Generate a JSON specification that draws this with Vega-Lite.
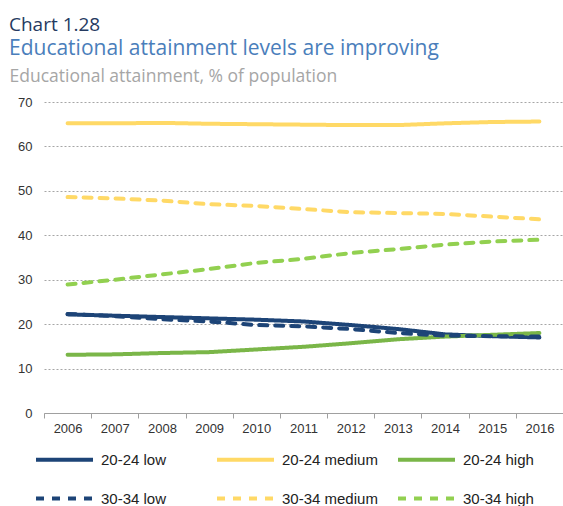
{
  "$schema": "https://vega.github.io/schema/vega-lite/v6.json",
  "width": 519,
  "height": 311,
  "autosize": {"type": "none"},
  "padding": {"left": 44, "top": 102, "right": 0, "bottom": 93},
  "background": "white",
  "title": {
    "text": "Chart 1.28",
    "subtitle": "Educational attainment levels are improving",
    "anchor": "start",
    "frame": "group",
    "dx": -35,
    "offset": 8,
    "font": "Open Sans",
    "fontSize": 19,
    "fontWeight": "normal",
    "color": "#253a61",
    "subtitleFont": "Open Sans",
    "subtitleFontSize": 21,
    "subtitleColor": "#4a7ebb",
    "subtitlePadding": 3
  },
  "config": {
    "view": {"stroke": null},
    "axis": {"labelFont": "Liberation Sans", "labelFontSize": 13, "labelColor": "#333333"},
    "legend": {"labelFont": "Liberation Sans", "labelFontSize": 15, "labelColor": "#222222"}
  },
  "data": {
    "values": [
      {"year": "2006", "series": "20-24 low", "value": 22.2},
      {"year": "2007", "series": "20-24 low", "value": 21.9},
      {"year": "2008", "series": "20-24 low", "value": 21.6},
      {"year": "2009", "series": "20-24 low", "value": 21.3},
      {"year": "2010", "series": "20-24 low", "value": 21.0},
      {"year": "2011", "series": "20-24 low", "value": 20.6},
      {"year": "2012", "series": "20-24 low", "value": 19.8},
      {"year": "2013", "series": "20-24 low", "value": 18.9},
      {"year": "2014", "series": "20-24 low", "value": 17.7},
      {"year": "2015", "series": "20-24 low", "value": 17.3},
      {"year": "2016", "series": "20-24 low", "value": 17.0},
      {"year": "2006", "series": "20-24 medium", "value": 65.2},
      {"year": "2007", "series": "20-24 medium", "value": 65.2},
      {"year": "2008", "series": "20-24 medium", "value": 65.3},
      {"year": "2009", "series": "20-24 medium", "value": 65.1},
      {"year": "2010", "series": "20-24 medium", "value": 65.0},
      {"year": "2011", "series": "20-24 medium", "value": 64.9},
      {"year": "2012", "series": "20-24 medium", "value": 64.8},
      {"year": "2013", "series": "20-24 medium", "value": 64.8},
      {"year": "2014", "series": "20-24 medium", "value": 65.2},
      {"year": "2015", "series": "20-24 medium", "value": 65.5},
      {"year": "2016", "series": "20-24 medium", "value": 65.6},
      {"year": "2006", "series": "20-24 high", "value": 13.1},
      {"year": "2007", "series": "20-24 high", "value": 13.2},
      {"year": "2008", "series": "20-24 high", "value": 13.5},
      {"year": "2009", "series": "20-24 high", "value": 13.7},
      {"year": "2010", "series": "20-24 high", "value": 14.3},
      {"year": "2011", "series": "20-24 high", "value": 14.9},
      {"year": "2012", "series": "20-24 high", "value": 15.7},
      {"year": "2013", "series": "20-24 high", "value": 16.6},
      {"year": "2014", "series": "20-24 high", "value": 17.2},
      {"year": "2015", "series": "20-24 high", "value": 17.6},
      {"year": "2016", "series": "20-24 high", "value": 18.0},
      {"year": "2006", "series": "30-34 low", "value": 22.3},
      {"year": "2007", "series": "30-34 low", "value": 21.8},
      {"year": "2008", "series": "30-34 low", "value": 21.1},
      {"year": "2009", "series": "30-34 low", "value": 20.6},
      {"year": "2010", "series": "30-34 low", "value": 19.8},
      {"year": "2011", "series": "30-34 low", "value": 19.5},
      {"year": "2012", "series": "30-34 low", "value": 18.9},
      {"year": "2013", "series": "30-34 low", "value": 18.0},
      {"year": "2014", "series": "30-34 low", "value": 17.4},
      {"year": "2015", "series": "30-34 low", "value": 17.3},
      {"year": "2016", "series": "30-34 low", "value": 17.2},
      {"year": "2006", "series": "30-34 medium", "value": 48.6},
      {"year": "2007", "series": "30-34 medium", "value": 48.3},
      {"year": "2008", "series": "30-34 medium", "value": 47.8},
      {"year": "2009", "series": "30-34 medium", "value": 47.0},
      {"year": "2010", "series": "30-34 medium", "value": 46.6},
      {"year": "2011", "series": "30-34 medium", "value": 45.9},
      {"year": "2012", "series": "30-34 medium", "value": 45.2},
      {"year": "2013", "series": "30-34 medium", "value": 45.0},
      {"year": "2014", "series": "30-34 medium", "value": 44.8},
      {"year": "2015", "series": "30-34 medium", "value": 44.2},
      {"year": "2016", "series": "30-34 medium", "value": 43.6},
      {"year": "2006", "series": "30-34 high", "value": 28.9},
      {"year": "2007", "series": "30-34 high", "value": 30.0},
      {"year": "2008", "series": "30-34 high", "value": 31.2},
      {"year": "2009", "series": "30-34 high", "value": 32.4},
      {"year": "2010", "series": "30-34 high", "value": 33.8},
      {"year": "2011", "series": "30-34 high", "value": 34.7},
      {"year": "2012", "series": "30-34 high", "value": 36.0},
      {"year": "2013", "series": "30-34 high", "value": 36.9},
      {"year": "2014", "series": "30-34 high", "value": 37.9},
      {"year": "2015", "series": "30-34 high", "value": 38.6},
      {"year": "2016", "series": "30-34 high", "value": 39.0}
    ]
  },
  "mark": {"type": "line", "strokeWidth": 4, "strokeCap": "round", "strokeJoin": "round"},
  "encoding": {
    "x": {
      "field": "year",
      "type": "ordinal",
      "bandPosition": 0.5,
      "scale": {"type": "band", "paddingInner": 0, "paddingOuter": 0},
      "axis": {
        "title": null,
        "labelAngle": 0,
        "tickBand": "extent",
        "domainColor": "#a0a0a0",
        "tickColor": "#a0a0a0",
        "tickSize": 5,
        "labelPadding": 4,
        "grid": false
      }
    },
    "y": {
      "field": "value",
      "type": "quantitative",
      "scale": {"domain": [0, 70], "nice": false},
      "axis": {
        "values": [0, 10, 20, 30, 40, 50, 60, 70],
        "domain": false,
        "ticks": false,
        "labelPadding": 12,
        "grid": true,
        "gridColor": "#a6a6a6",
        "gridDash": [2, 2],
        "gridWidth": 1,
        "title": "Educational attainment, % of population",
        "titleAngle": 0,
        "titleAlign": "left",
        "titleBaseline": "alphabetic",
        "titleX": -35,
        "titleY": -21,
        "titleFont": "Open Sans",
        "titleFontSize": 17.5,
        "titleFontWeight": "normal",
        "titleColor": "#a6a6a6"
      }
    },
    "color": {
      "field": "series",
      "type": "nominal",
      "scale": {
        "domain": ["20-24 low", "20-24 medium", "20-24 high", "30-34 low", "30-34 medium", "30-34 high"],
        "range": ["#1d4477", "#ffd966", "#7ab648", "#1d4477", "#ffd966", "#92d050"]
      },
      "legend": {
        "title": null,
        "orient": "none",
        "legendX": -10,
        "legendY": 327,
        "direction": "horizontal",
        "columns": 3,
        "gridAlign": "all",
        "symbolType": "stroke",
        "symbolSize": 3249,
        "symbolStrokeWidth": 4,
        "labelOffset": 6,
        "columnPadding": 12,
        "rowPadding": -16
      }
    },
    "strokeDash": {
      "field": "series",
      "type": "nominal",
      "scale": {
        "domain": ["20-24 low", "20-24 medium", "20-24 high", "30-34 low", "30-34 medium", "30-34 high"],
        "range": [[1, 0], [1, 0], [1, 0], [8, 8], [8, 8], [8, 8]]
      },
      "legend": {
        "title": null,
        "orient": "none",
        "legendX": -10,
        "legendY": 327,
        "direction": "horizontal",
        "columns": 3,
        "gridAlign": "all",
        "symbolType": "stroke",
        "symbolSize": 3249,
        "symbolStrokeWidth": 4,
        "labelOffset": 6,
        "columnPadding": 12,
        "rowPadding": -16
      }
    }
  }
}
